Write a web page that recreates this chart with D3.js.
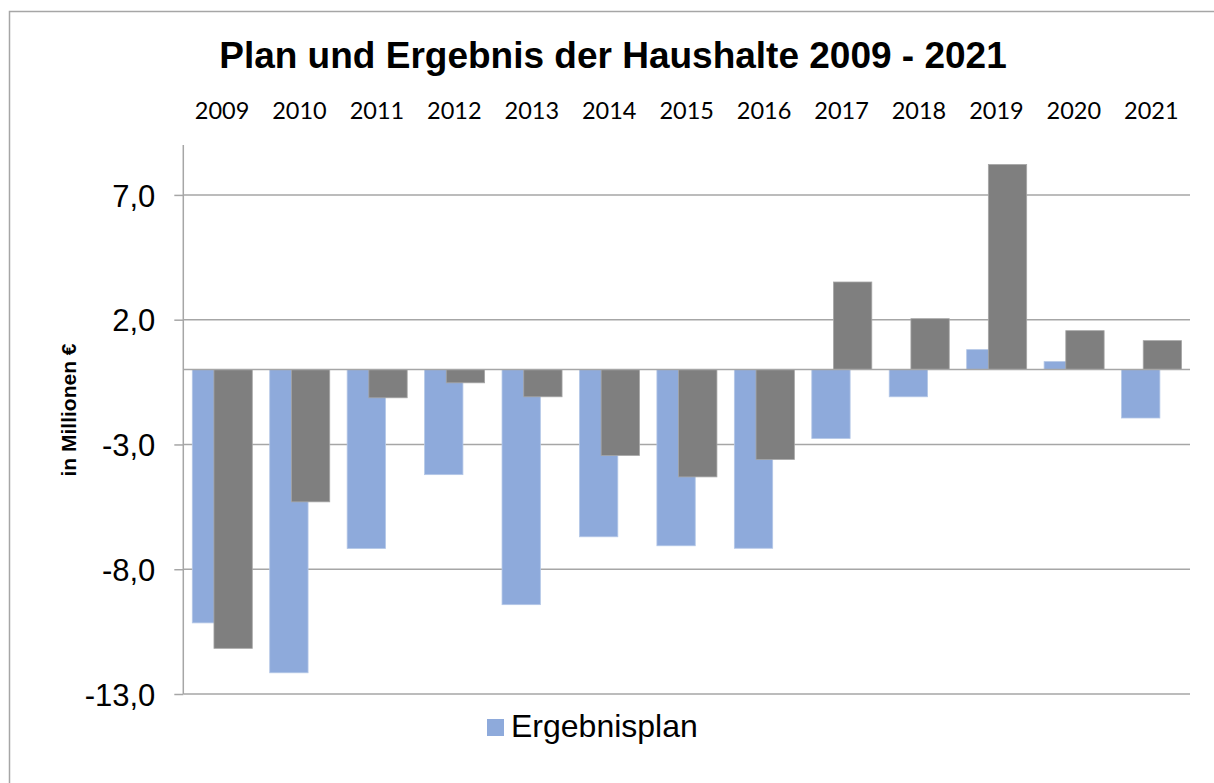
<!DOCTYPE html>
<html>
<head>
<meta charset="utf-8">
<script src="https://cdn.jsdelivr.net/npm/d3@7"></script>
<style>
  html, body { margin: 0; padding: 0; background: #fff; }
  svg { display: block; }
</style>
</head>
<body>
<svg id="chart" width="1214" height="783"></svg>
<script>
const years = ["2009","2010","2011","2012","2013","2014","2015","2016","2017","2018","2019","2020","2021"];
const ergebnisplan = [-10.15, -12.15, -7.17, -4.21, -9.42, -6.70, -7.06, -7.16, -2.76, -1.09, 0.80, 0.32, -1.94];
const ergebnis = [-11.17, -5.30, -1.13, -0.53, -1.09, -3.44, -4.30, -3.60, 3.51, 2.04, 8.22, 1.56, 1.16];
const yTicks = [7, 2, -3, -8, -13];
const title = "Plan und Ergebnis der Haushalte 2009 - 2021";
const yTitle = "in Millionen €";
const legendLabel = "Ergebnisplan";

(function () {
const svg = d3.select("#chart");
const pLeft = 183.3, pRight = 1190, pTop = 145, pBottom = 694;

const x = d3.scaleBand().domain(years).range([pLeft, pRight]).padding(0);
const y = d3.scaleLinear().domain([-13, 9]).range([pBottom, pTop]);
const bw = x.bandwidth();
const barW = bw * 0.495;
const blueOff = bw * 0.116;
const greyOff = bw * 0.396;

// outer frame
svg.append("path")
  .attr("d", `M9.5,783 L9.5,11.5 L1214,11.5`)
  .attr("fill", "none").attr("stroke", "#a6a6a6").attr("stroke-width", 1.5);

// title
svg.append("text")
  .attr("x", 613).attr("y", 68)
  .attr("text-anchor", "middle")
  .attr("font-family", "'Liberation Sans', Arial, sans-serif")
  .attr("font-weight", "bold").attr("font-size", 37)
  .attr("fill", "#000")
  .text(title);

// gridlines
svg.append("g").selectAll("line").data(yTicks).join("line")
  .attr("x1", pLeft).attr("x2", pRight)
  .attr("y1", d => y(d)).attr("y2", d => y(d))
  .attr("stroke", "#a6a6a6").attr("stroke-width", 1.5);

// y axis
const yAxis = d3.axisLeft(y).tickValues(yTicks).tickSize(9).tickPadding(19)
  .tickFormat(d => d3.format(".1f")(d).replace(".", ",").replace("−", "-"));
const gy = svg.append("g").attr("transform", `translate(${pLeft},0)`).call(yAxis);
gy.select(".domain").attr("stroke", "#a6a6a6").attr("stroke-width", 1.5)
  .attr("d", `M0,${pTop}V${pBottom}`);
gy.selectAll(".tick line").attr("stroke", "#a6a6a6").attr("stroke-width", 1.5);
gy.selectAll(".tick text")
  .attr("font-family", "'Liberation Sans', Arial, sans-serif")
  .attr("font-size", 31).attr("fill", "#000")
  .attr("dy", "0.36em");

// bars
svg.append("g").selectAll("rect").data(years).join("rect")
  .attr("x", (d) => x(d) + blueOff)
  .attr("width", barW)
  .attr("y", (d, i) => y(Math.max(0, ergebnisplan[i])))
  .attr("height", (d, i) => Math.abs(y(ergebnisplan[i]) - y(0)))
  .attr("fill", "#8eaadb").attr("stroke", "#b4c7e7").attr("stroke-width", 0.8);

svg.append("g").selectAll("rect").data(years).join("rect")
  .attr("x", (d) => x(d) + greyOff)
  .attr("width", barW)
  .attr("y", (d, i) => y(Math.max(0, ergebnis[i])))
  .attr("height", (d, i) => Math.abs(y(ergebnis[i]) - y(0)))
  .attr("fill", "#7f7f7f").attr("stroke", "#a6a6a6").attr("stroke-width", 0.8);

// zero line
svg.append("line")
  .attr("x1", pLeft).attr("x2", pRight).attr("y1", y(0)).attr("y2", y(0))
  .attr("stroke", "#a6a6a6").attr("stroke-width", 1.5);

// x axis labels on top
const xAxis = d3.axisTop(x).tickSize(0).tickPadding(0);
const gx = svg.append("g").attr("transform", `translate(0,119)`).call(xAxis);
gx.select(".domain").remove();
gx.selectAll(".tick text")
  .attr("font-family", "Lato, 'Open Sans', sans-serif")
  .attr("font-size", 23.5).attr("fill", "#000").attr("dy", 0);

// y title
svg.append("text")
  .attr("transform", `translate(76,410) rotate(-90)`)
  .attr("text-anchor", "middle")
  .attr("font-family", "'Liberation Sans', Arial, sans-serif")
  .attr("font-weight", "bold").attr("font-size", 21)
  .attr("fill", "#000")
  .text(yTitle);

// legend
const lg = svg.append("g");
lg.append("rect").attr("x", 487).attr("y", 719).attr("width", 17).attr("height", 17)
  .attr("fill", "#8eaadb");
lg.append("text").attr("x", 511).attr("y", 737)
  .attr("font-family", "'Liberation Sans', Arial, sans-serif")
  .attr("font-size", 32).attr("fill", "#000")
  .text(legendLabel);
})();
</script>
</body>
</html>
